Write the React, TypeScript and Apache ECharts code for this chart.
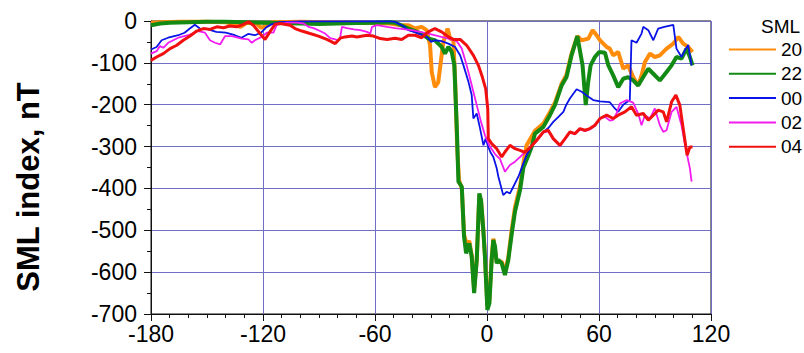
import React, { useEffect, useRef } from "react";
import * as echarts from "echarts";

type Pt = [number, number];

const seriesNames = ["20", "22", "00", "02", "04"];
const xTicks = { min: -180, max: 120, interval: 60 };
const yTicks = { min: -700, max: 0, interval: 100 };

const sml20: Pt[] = [
  [-180, -4], [-175, -3], [-165, -2], [-150, -2], [-140, -3], [-135, -8], [-132, -14], [-129, -5],
  [-124, -4], [-121, -16], [-118, -12], [-115, -3], [-100, -2], [-85, -3], [-70, -4], [-60, -5],
  [-52, -6], [-46, -10], [-42, -10], [-38.5, -18], [-35, -14], [-32.3, -22], [-30.5, -58],
  [-29.6, -122], [-27.9, -158], [-26.1, -146], [-24.3, -82], [-23.4, -50], [-22.5, -38],
  [-21.1, -18], [-19.8, -42], [-18, -46], [-17, -150], [-16, -300], [-15, -380], [-13.5, -400],
  [-12.3, -510], [-10.9, -535], [-9.5, -525], [-8.2, -560], [-6.9, -640], [-5.5, -570],
  [-4.1, -415], [-3.2, -430], [-2, -495], [-1.1, -560], [0.2, -680], [1.3, -665], [2.5, -565],
  [3.4, -520], [5.2, -575], [7.9, -575], [9.6, -600], [11.4, -565], [13.2, -500], [15, -445],
  [17.7, -395], [19.5, -340], [21.2, -297], [23, -283], [25.7, -262], [30.2, -245], [33.7, -218],
  [36.4, -195], [40, -150], [42.6, -128], [45.3, -78], [48.4, -36], [50.7, -46], [54.3, -42],
  [56.6, -22], [58.7, -34], [60.5, -46], [62.3, -54], [64.1, -62], [65.8, -66], [67.6, -82],
  [70.3, -74], [73, -114], [75.6, -106], [78.3, -134], [81, -154], [82.8, -130], [84.6, -98],
  [87.3, -78], [89.9, -86], [92.6, -82], [96.2, -66], [99.8, -54], [102.5, -38], [105.1, -54],
  [107.8, -62], [110.1, -74],
];

const sml22: Pt[] = [
  [-180, -10], [-175, -6], [-170, -4], [-160, -3], [-150, -2], [-140, -2], [-130, -3], [-120, -4],
  [-110, -5], [-100, -6], [-90, -7], [-80, -6], [-70, -5], [-60, -4], [-52, -3], [-49.3, -4],
  [-45, -12], [-42.1, -18], [-38.5, -24], [-35, -30], [-31.4, -42], [-27.9, -46], [-24.3, -62],
  [-22.5, -78], [-20.7, -62], [-18.9, -74], [-17.5, -106], [-16.8, -185], [-16.1, -265],
  [-15.6, -340], [-15.3, -384], [-13.5, -396], [-12.3, -515], [-11.2, -555], [-9.5, -531],
  [-8.2, -563], [-6.9, -650], [-5.5, -571], [-4.1, -412], [-3.2, -428], [-2, -499], [-1.1, -563],
  [0.2, -690], [1.3, -674], [2.5, -571], [3.4, -523], [4.3, -539], [5.2, -579], [6.1, -571],
  [7.9, -579], [9.6, -607], [11.4, -571], [13.2, -510], [15, -455], [17.7, -404], [19.5, -350],
  [22.1, -322], [24, -300], [25.7, -269], [30.2, -253], [33.7, -225], [36.4, -201], [40, -154],
  [42.6, -134], [45.3, -82], [48.4, -36], [51.2, -106], [52.9, -201], [54.2, -146], [55.5, -106],
  [57.8, -86], [60.1, -74], [63.2, -76], [65, -106], [67.6, -130], [70.3, -158], [73, -138],
  [75.6, -134], [78.3, -142], [81, -154], [83.7, -134], [86.4, -114], [89.1, -126], [92.6, -142],
  [96.2, -122], [98.9, -106], [101.5, -86], [104.2, -90], [106.9, -66], [108.7, -86],
  [110.1, -106],
];

const sml00: Pt[] = [
  [-180, -68], [-177, -62], [-174.3, -46], [-170.8, -40], [-165.4, -34], [-162, -28],
  [-159.2, -18], [-156.5, -9], [-153.8, -18], [-149.4, -20], [-145, -26], [-140, -28],
  [-135.1, -34], [-131.5, -40], [-128, -31], [-124.4, -34], [-121, -28], [-118, -14],
  [-115.4, -8], [-111.8, -3], [-100, -1], [-80, -1], [-60, -1], [-52, -1], [-49.3, -2],
  [-45, -12], [-42.1, -22], [-39, -26], [-36.8, -30], [-33, -36], [-31.4, -41], [-30, -50],
  [-27.9, -46], [-24.3, -48], [-20.7, -54], [-17.1, -62], [-14.4, -82], [-12.6, -106],
  [-9.9, -146], [-8.2, -177], [-7.3, -233], [-5.5, -221], [-3.7, -257], [-1.9, -297],
  [-0.7, -281], [0.7, -301], [2, -315], [3.4, -325], [5.2, -352], [6.1, -372], [8.7, -416],
  [10.5, -408], [12.3, -412], [14.1, -396], [16.8, -372], [19.5, -340], [21.2, -320],
  [24.8, -293], [27.5, -280], [30.2, -265], [33, -255], [35.5, -241], [38, -230], [40.9, -217],
  [42.5, -200], [44.4, -185], [48, -163], [50.7, -169], [54.3, -181], [56.9, -189], [60.5, -192],
  [65.8, -194], [68.5, -209], [70.3, -217], [73, -200], [76.5, -189], [77.4, -46], [80.1, -52],
  [82.8, -30], [83.7, -14], [86.4, -22], [89.1, -46], [91.7, -18], [95, -14], [99.8, -9],
  [101.5, -66], [104.2, -86], [106, -70], [107.8, -57], [109.6, -106],
];

const sml02: Pt[] = [
  [-180, -78], [-177, -72], [-175.2, -60], [-173.4, -64], [-170.8, -52], [-165.4, -40],
  [-160, -34], [-154.7, -24], [-151.1, -28], [-148.4, -46], [-145.7, -52], [-143, -56],
  [-140.3, -36], [-136.7, -36], [-131.4, -42], [-127.8, -44], [-126, -52], [-124.3, -46],
  [-120.7, -38], [-118, -28], [-114.4, -28], [-112.6, -9], [-107.2, -4], [-101.9, -4],
  [-98.3, -6], [-95.6, -14], [-92.9, -17], [-90.3, -22], [-86.7, -30], [-84, -41], [-81.3, -44],
  [-79.5, -46], [-78.6, -38], [-77.7, -14], [-75, -17], [-71.4, -20], [-67.9, -22], [-64.3, -26],
  [-62.5, -30], [-61.6, -14], [-58.9, -10], [-53.5, -14], [-49.3, -17], [-40.3, -22],
  [-31.4, -30], [-26.1, -36], [-20.7, -42], [-16.3, -48], [-13.5, -66], [-10.9, -106],
  [-8.2, -153], [-5.5, -201], [-3.2, -241], [-1.1, -273], [1.6, -300], [4.3, -318], [7, -330],
  [9.6, -360], [12.3, -344], [15, -336], [17.7, -325], [20.3, -313], [23, -303], [26.6, -287],
  [30.2, -267], [32.8, -263], [35.5, -283], [39.1, -299], [41.8, -283], [44.4, -267],
  [47.1, -271], [49.8, -259], [52.5, -263], [55.1, -259], [57.8, -251], [60.5, -233],
  [63.2, -229], [65.8, -238], [67.6, -236], [69.4, -221], [71.2, -197], [74.8, -189],
  [78.3, -195], [81, -221], [82.8, -249], [84.6, -225], [87.3, -233], [89.9, -209], [92.6, -249],
  [94.4, -265], [96.2, -261], [98.9, -217], [101.5, -205], [104.2, -249], [106.5, -305],
  [108.7, -352], [109.6, -384],
];

const sml04: Pt[] = [
  [-180, -94], [-177, -86], [-173.4, -78], [-169.8, -66], [-166.2, -58], [-162.7, -46],
  [-159.1, -36], [-155.5, -24], [-151.9, -18], [-148.4, -20], [-144.8, -14], [-141.2, -16],
  [-137.7, -12], [-134.1, -14], [-130.5, -8], [-127.8, -2], [-125.2, -10], [-121.6, -30],
  [-118.9, -44], [-116.3, -26], [-113.6, -8], [-110.8, -6], [-105.5, -10], [-102.8, -18],
  [-99.2, -24], [-94.8, -30], [-90.3, -36], [-85.8, -44], [-81.3, -54], [-78.6, -41], [-76, -38],
  [-72.4, -36], [-69.7, -38], [-64.3, -34], [-60.8, -36], [-57.2, -42], [-53.5, -44],
  [-49.3, -41], [-45.7, -44], [-42.1, -34], [-38.5, -34], [-35, -40], [-31.4, -26], [-27.9, -18],
  [-24.3, -26], [-20.7, -38], [-18, -44], [-14.4, -44], [-10.9, -58], [-7.3, -82], [-4.6, -106],
  [-2.5, -134], [-0.7, -162], [0.4, -209], [0.7, -281], [2.5, -293], [5.2, -305], [7.9, -325],
  [9.6, -313], [12.3, -297], [15, -305], [17.7, -309], [20.3, -314], [23, -303], [26.6, -285],
  [30.2, -265], [32.8, -261], [35.5, -281], [39.1, -297], [41.8, -281], [44.4, -265],
  [47.1, -269], [49.8, -257], [52.5, -261], [55.1, -257], [57.8, -249], [60.5, -233],
  [64.1, -225], [67.6, -233], [70.3, -225], [73.9, -217], [77.4, -205], [80.1, -225],
  [83.7, -221], [86.4, -237], [89.1, -225], [91.7, -213], [94.4, -217], [96.2, -241],
  [98.9, -193], [101.2, -177], [103.3, -201], [105.1, -257], [107.2, -321], [108.7, -301],
  [110.1, -301],
];

const seriesData = [sml20, sml22, sml00, sml02, sml04];
const seriesColors = ["#ff8c0a", "#138a13", "#0a14e6", "#f21cf0", "#f01010"];
const seriesWidths = [4, 4, 1.8, 1.8, 3];

const FONT = "'Liberation Sans', Arial, sans-serif";
const GRID_COLOR = "#6e6ec4";

export default function App() {
  const ref = useRef<HTMLDivElement>(null);
  useEffect(() => {
    if (!ref.current) return;
    const chart = echarts.init(ref.current, undefined, { renderer: "svg" });
    chart.setOption({
      animation: false,
      backgroundColor: "#ffffff",
      title: {
        text: "SML",
        left: 761,
        top: 17,
        textStyle: { fontFamily: FONT, fontSize: 19, fontWeight: "normal", color: "#000" },
        padding: 0,
      },
      legend: {
        orient: "vertical",
        left: 728,
        top: 40,
        padding: 0,
        itemWidth: 47,
        itemHeight: 19,
        itemGap: 5.3,
        data: seriesNames,
        itemStyle: { opacity: 0 },
        textStyle: { fontFamily: FONT, fontSize: 19, color: "#000", lineHeight: 19 },
      },
      grid: {
        left: 151,
        right: 93,
        top: 21,
        bottom: 39,
        show: true,
        borderColor: "#111",
        borderWidth: 1,
        backgroundColor: "transparent",
      },
      xAxis: {
        type: "value",
        min: xTicks.min,
        max: xTicks.max,
        interval: xTicks.interval,
        axisLine: { onZero: false, lineStyle: { color: "#111", width: 1 } },
        axisTick: { show: true, inside: false, length: 7, lineStyle: { color: "#111" } },
        minorTick: { show: true, splitNumber: 6, length: 4, lineStyle: { color: "#111" } },
        splitLine: { show: true, lineStyle: { color: GRID_COLOR, width: 1 } },
        axisLabel: { fontFamily: FONT, fontSize: 23, color: "#000", margin: 8 },
      },
      yAxis: {
        type: "value",
        min: yTicks.min,
        max: yTicks.max,
        interval: yTicks.interval,
        axisLine: { show: true, onZero: false, lineStyle: { color: "#111", width: 1 } },
        axisTick: { show: true, inside: false, length: 7, lineStyle: { color: "#111" } },
        minorTick: { show: true, splitNumber: 2, length: 4, lineStyle: { color: "#111" } },
        splitLine: { show: true, lineStyle: { color: GRID_COLOR, width: 1 } },
        axisLabel: { fontFamily: FONT, fontSize: 23, color: "#000", margin: 14 },
      },
      graphic: [
        {
          type: "text",
          x: 28,
          y: 187,
          rotation: Math.PI / 2,
          style: {
            text: "SML index, nT",
            fontFamily: FONT,
            fontSize: 31,
            fontWeight: "bold",
            fill: "#000",
            align: "center",
            verticalAlign: "middle",
          },
        },
      ],
      series: seriesNames.map((name, i) => ({
        name,
        type: "line",
        data: seriesData[i],
        showSymbol: false,
        symbol: "none",
        color: seriesColors[i],
        lineStyle: { color: seriesColors[i], width: seriesWidths[i] },
        z: 2 + i,
      })),
    });
    return () => chart.dispose();
  }, []);
  return (
    <div
      ref={ref}
      style={{ position: "absolute", left: 0, top: 0, width: 804, height: 353 }}
    />
  );
}
